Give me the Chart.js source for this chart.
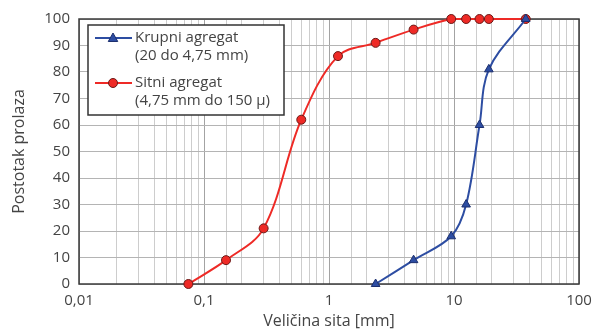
<!DOCTYPE html>
<html lang="hr">
<head>
<meta charset="UTF-8">
<title>Granulometrijska krivulja</title>
<script src="https://cdn.jsdelivr.net/npm/chart.js"></script>
<style>
  html, body { margin: 0; padding: 0; background: #fff; }
  #wrap { width: 592px; height: 329px; }
</style>
</head>
<body>
<div id="wrap"><canvas id="grading"></canvas></div>
<script>
// sieve sizes [mm] and percent passing
const coarseSieve = [2.36, 4.75, 9.5, 12.5, 16, 19, 37.5];
const coarsePass  = [0, 9, 18, 30, 60, 81, 100];
const fineSieve   = [0.075, 0.15, 0.3, 0.6, 1.18, 2.36, 4.75, 9.5, 12.5, 16, 19, 37.5];
const finePass    = [0, 9, 21, 62, 86, 91, 96, 100, 100, 100, 100, 100];
const xTickLabels = { '-2': '0,01', '-1': '0,1', '0': '1', '1': '10', '2': '100' };
const seriesNames = [['Krupni agregat', '(20 do 4,75 mm)'], ['Sitni agregat', '(4,75 mm do 150 \u03bc)']];

const BLUE = '#2d4da2', RED = '#ee2a26';
const FONT = '"Open Sans", sans-serif';
const TXT = '#444';

const toPoints = (xs, ys) => xs.map((x, i) => ({ x: x, y: ys[i] }));

function isDecade(v) {
    const l = Math.log10(v);
    return Math.abs(l - Math.round(l)) < 1e-9;
}

// frame around the plot area
const framePlugin = {
    id: 'frame',
    beforeDatasetsDraw(chart) {
        const a = chart.chartArea, ctx = chart.ctx;
        ctx.save();
        ctx.strokeStyle = '#3a3a3a';
        ctx.lineWidth = 1.5;
        ctx.strokeRect(a.left, a.top, a.right - a.left, a.bottom - a.top);
        ctx.restore();
    }
};

// boxed legend with two-line labels
const legendPlugin = {
    id: 'boxLegend',
    afterDraw(chart) {
        const ctx = chart.ctx;
        const bx = 88, by = 25, bw = 196, bh = 90;
        ctx.save();
        ctx.fillStyle = '#fff';
        ctx.fillRect(bx, by, bw, bh);
        ctx.strokeStyle = '#333';
        ctx.lineWidth = 1.5;
        ctx.strokeRect(bx, by, bw, bh);
        const rows = [38, 83];
        chart.data.datasets.forEach((ds, i) => {
            const y = rows[i];
            ctx.strokeStyle = ds.borderColor;
            ctx.lineWidth = 2;
            ctx.beginPath();
            ctx.moveTo(95, y);
            ctx.lineTo(132, y);
            ctx.stroke();
            ctx.fillStyle = ds.pointBackgroundColor;
            ctx.strokeStyle = ds.pointBorderColor;
            ctx.lineWidth = 1;
            ctx.beginPath();
            if (ds.pointStyle === 'triangle') {
                const r = 5;
                ctx.moveTo(113, y - r);
                ctx.lineTo(113 + r * 0.95, y + r * 0.7);
                ctx.lineTo(113 - r * 0.95, y + r * 0.7);
                ctx.closePath();
            } else {
                ctx.arc(113, y, 4.5, 0, Math.PI * 2);
            }
            ctx.fill();
            ctx.stroke();
            ctx.fillStyle = TXT;
            ctx.font = '15px ' + FONT;
            ctx.textBaseline = 'middle';
            ctx.textAlign = 'left';
            ctx.fillText(seriesNames[i][0], 135, y);
            ctx.fillText(seriesNames[i][1], 135, y + 18);
        });
        ctx.restore();
    }
};

new Chart(document.getElementById('grading'), {
    type: 'scatter',
    data: {
        datasets: [{
            label: seriesNames[0].join(' '),
            data: toPoints(coarseSieve, coarsePass),
            showLine: true,
            borderColor: BLUE,
            borderWidth: 2,
            pointStyle: 'triangle',
            pointRadius: 5,
            pointBackgroundColor: BLUE,
            pointBorderColor: '#1c2f6e',
            pointBorderWidth: 1,
            tension: 0.35,
            clip: false
        }, {
            label: seriesNames[1].join(' '),
            data: toPoints(fineSieve, finePass),
            showLine: true,
            borderColor: RED,
            borderWidth: 2,
            pointStyle: 'circle',
            pointRadius: 4.5,
            pointBackgroundColor: RED,
            pointBorderColor: '#6b1a18',
            pointBorderWidth: 1,
            tension: 0.35,
            clip: false
        }]
    },
    options: {
        responsive: true,
        maintainAspectRatio: false,
        animation: false,
        devicePixelRatio: 1,
        layout: { padding: { top: 19, right: 13, left: 0, bottom: 0 } },
        plugins: { legend: { display: false }, tooltip: { enabled: false } },
        scales: {
            x: {
                type: 'logarithmic',
                min: 0.01,
                max: 100,
                afterFit(s) { s.height = 45; s.paddingLeft = 0; s.paddingRight = 0; },
                border: { display: false },
                grid: {
                    drawTicks: false,
                    color: c => isDecade(c.tick.value) ? '#a3a3a3' : '#cdcdcd',
                    lineWidth: 1
                },
                ticks: {
                    autoSkip: false,
                    maxRotation: 0,
                    padding: 8,
                    color: TXT,
                    font: { family: FONT, size: 15 },
                    callback: v => isDecade(v) ? xTickLabels[String(Math.round(Math.log10(v)))] : ''
                },
                title: {
                    display: true,
                    text: 'Veli\u010dina sita [mm]',
                    color: TXT,
                    font: { family: FONT, size: 16, lineHeight: 1 },
                    padding: { top: 0, bottom: 0 }
                }
            },
            y: {
                min: 0,
                max: 100,
                afterFit(s) { s.width = 79; s.paddingTop = 0; s.paddingBottom = 0; },
                border: { display: false },
                grid: { drawTicks: false, color: '#b4b4b4', lineWidth: 1 },
                ticks: {
                    stepSize: 10,
                    padding: 9,
                    color: TXT,
                    font: { family: FONT, size: 15 }
                },
                title: {
                    display: true,
                    text: 'Postotak prolaza',
                    color: TXT,
                    font: { family: FONT, size: 16, lineHeight: 1 },
                    padding: { top: 11, bottom: 0 }
                }
            }
        }
    },
    plugins: [framePlugin, legendPlugin]
});
</script>
</body>
</html>
